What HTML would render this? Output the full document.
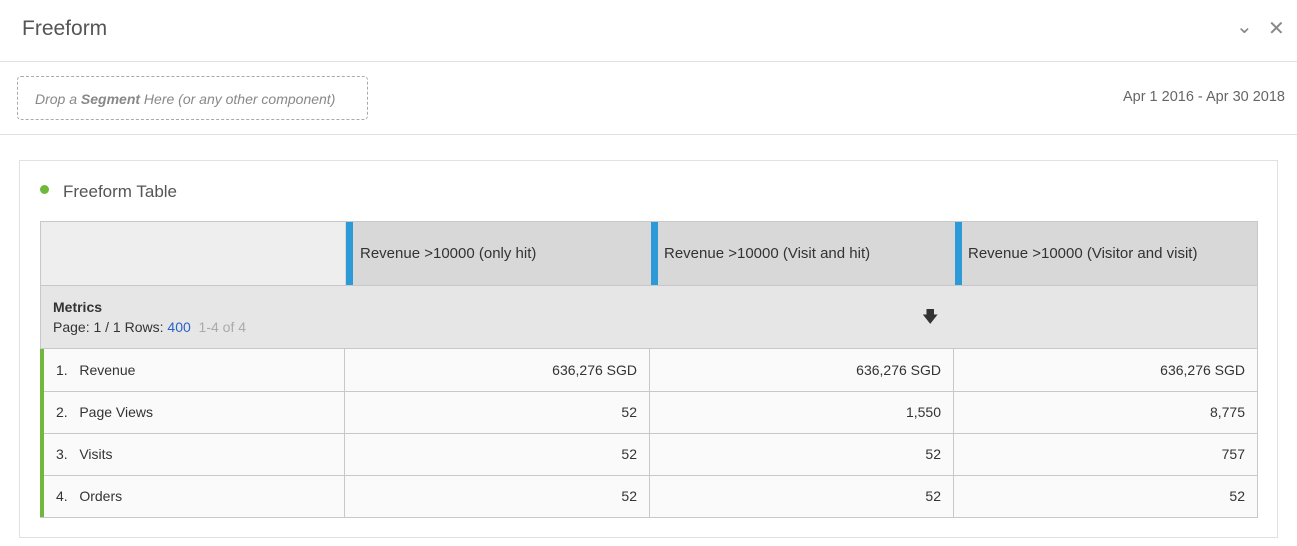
<!DOCTYPE html>
<html><head><style>
*{box-sizing:border-box;margin:0;padding:0}
body{width:1297px;height:546px;background:#fff;font-family:"Liberation Sans",sans-serif;color:#4b4b4b;position:relative;overflow:hidden}
.a{position:absolute}
.t{font-size:14px;color:#333}
</style></head><body>
<div class="a" style="left:22px;top:17px;font-size:21px;color:#555">Freeform</div>
<div class="a" style="left:1236px;top:14px;font-size:20px;color:#888">&#8964;</div>
<div class="a" style="left:1268px;top:16px;font-size:20px;color:#888">✕</div>
<div class="a" style="left:0;top:61px;width:1297px;height:1px;background:#e1e1e1"></div>
<div class="a" style="left:17px;top:76px;width:351px;height:44px;border:1px dashed #aaa;border-radius:4px;font-size:14px;font-style:italic;color:#888;padding:14px 0 0 17px">Drop a <b>Segment</b> Here (or any other component)</div>
<div class="a" style="right:12px;top:89px;font-size:14.5px;color:#666">Apr 1 2016 - Apr 30 2018</div>
<div class="a" style="left:0;top:134px;width:1297px;height:1px;background:#e1e1e1"></div>
<div class="a" style="left:19px;top:160px;width:1259px;height:378px;border:1px solid #e1e1e1"></div>
<div class="a" style="left:40px;top:185px;width:9px;height:9px;border-radius:50%;background:#6fb83b"></div>
<div class="a" style="left:63px;top:182px;font-size:17px;color:#555">Freeform Table</div>
<div class="a" style="left:40px;top:221px;width:1218px;height:297px;border:1px solid #c8c8c8;background:#fafafa"></div>
<div class="a" style="left:41px;top:222px;width:304px;height:63px;background:#eee"></div>
<div class="a" style="left:345px;top:222px;width:912px;height:63px;background:#d8d8d8"></div>
<div class="a" style="left:346px;top:222px;width:7px;height:63px;background:#2d9ad8"></div>
<div class="a" style="left:651px;top:222px;width:7px;height:63px;background:#2d9ad8"></div>
<div class="a" style="left:955px;top:222px;width:7px;height:63px;background:#2d9ad8"></div>
<div class="a t" style="left:360px;top:245px;font-size:15px">Revenue &gt;10000 (only hit)</div>
<div class="a t" style="left:664px;top:245px;font-size:15px">Revenue &gt;10000 (Visit and hit)</div>
<div class="a t" style="left:968px;top:245px;font-size:15px">Revenue &gt;10000 (Visitor and visit)</div>
<div class="a" style="left:41px;top:285px;width:1216px;height:64px;background:#e6e6e6;border-top:1px solid #c8c8c8;border-bottom:1px solid #c8c8c8"></div>
<div class="a t" style="left:53px;top:299px;font-weight:bold;font-size:14px">Metrics</div>
<div class="a t" style="left:53px;top:319px;font-size:14px">Page: 1 / 1 Rows: <span style="color:#2a63c8">400</span> <span style="color:#aaa">&nbsp;1-4 of 4</span></div>
<div class="a" style="left:922px;top:306px;font-size:16px;color:#333">&#129095;</div>
<div class="a" style="left:40px;top:349px;width:4px;height:168px;background:#6fb83b"></div>
<div class="a" style="left:344px;top:349px;width:1px;height:168px;background:#c8c8c8"></div>
<div class="a" style="left:649px;top:349px;width:1px;height:168px;background:#c8c8c8"></div>
<div class="a" style="left:953px;top:349px;width:1px;height:168px;background:#c8c8c8"></div>
<div class="a" style="left:44px;top:391px;width:1213px;height:1px;background:#c8c8c8"></div>
<div class="a" style="left:44px;top:433px;width:1213px;height:1px;background:#c8c8c8"></div>
<div class="a" style="left:44px;top:475px;width:1213px;height:1px;background:#c8c8c8"></div>
<div class="a t" style="left:56px;top:362px">1.&nbsp;&nbsp;&nbsp;Revenue</div>
<div class="a t" style="left:56px;top:404px">2.&nbsp;&nbsp;&nbsp;Page Views</div>
<div class="a t" style="left:56px;top:446px">3.&nbsp;&nbsp;&nbsp;Visits</div>
<div class="a t" style="left:56px;top:488px">4.&nbsp;&nbsp;&nbsp;Orders</div>
<div class="a t" style="right:660px;top:362px">636,276 SGD</div>
<div class="a t" style="right:356px;top:362px">636,276 SGD</div>
<div class="a t" style="right:52px;top:362px">636,276 SGD</div>
<div class="a t" style="right:660px;top:404px">52</div>
<div class="a t" style="right:356px;top:404px">1,550</div>
<div class="a t" style="right:52px;top:404px">8,775</div>
<div class="a t" style="right:660px;top:446px">52</div>
<div class="a t" style="right:356px;top:446px">52</div>
<div class="a t" style="right:52px;top:446px">757</div>
<div class="a t" style="right:660px;top:488px">52</div>
<div class="a t" style="right:356px;top:488px">52</div>
<div class="a t" style="right:52px;top:488px">52</div>
</body></html>
